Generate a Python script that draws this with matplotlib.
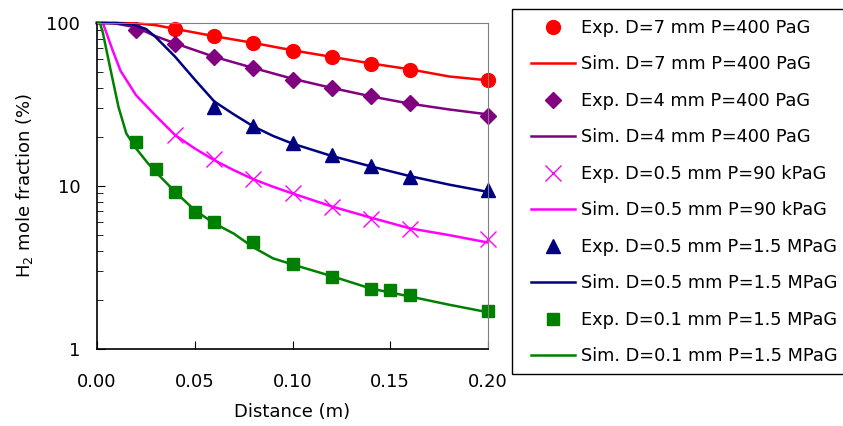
import matplotlib
matplotlib.use("Agg")
import matplotlib.pyplot as plt
from matplotlib.patches import Rectangle
from matplotlib.ticker import LogLocator, FixedLocator, NullFormatter

x_red = [0.04, 0.06, 0.08, 0.10, 0.12, 0.14, 0.16, 0.20]
y_red = [92, 83, 75.5, 67.5, 62, 56, 51.5, 44.5]
x_pur = [0.02, 0.04, 0.06, 0.08, 0.10, 0.12, 0.14, 0.16, 0.20]
y_pur = [91, 74.5, 62, 53, 45, 40, 35.7, 32.5, 27]
x_mag = [0.04, 0.06, 0.08, 0.10, 0.12, 0.14, 0.16, 0.20]
y_mag = [20.5, 14.6, 11.0, 9.0, 7.45, 6.3, 5.45, 4.75]
x_nav = [0.06, 0.08, 0.10, 0.12, 0.14, 0.16, 0.20]
y_nav = [30.5, 23.5, 18.3, 15.6, 13.3, 11.4, 9.5]
x_grn = [0.02, 0.03, 0.04, 0.05, 0.06, 0.08, 0.10, 0.12, 0.14, 0.15, 0.16, 0.20]
y_grn = [18.5, 12.8, 9.2, 6.95, 6.0, 4.55, 3.3, 2.78, 2.34, 2.3, 2.15, 1.7]

# simulation curves
sx_red = [0.0, 0.01, 0.02, 0.03, 0.04, 0.06, 0.08, 0.10, 0.12, 0.14, 0.16, 0.18, 0.20]
sy_red = [100, 100, 99.5, 97, 92, 83, 75.5, 68, 62, 56.5, 52, 47, 44.5]
sx_pur = [0.0, 0.005, 0.01, 0.02, 0.03, 0.04, 0.06, 0.08, 0.10, 0.12, 0.14, 0.16, 0.18, 0.20]
sy_pur = [100, 100, 99, 94, 83, 75, 62, 53, 45.5, 40, 35.5, 32, 29.5, 27.5]
sx_nav = [0.0, 0.01, 0.018, 0.025, 0.03, 0.04, 0.05, 0.06, 0.07, 0.08, 0.09, 0.10, 0.12, 0.14, 0.16, 0.18, 0.20]
sy_nav = [100, 100, 98, 92, 82, 62, 45, 33, 27.5, 23.2, 20.3, 18.2, 15.3, 13.2, 11.5, 10.2, 9.2]
sx_mag = [0.0, 0.003, 0.008, 0.012, 0.02, 0.03, 0.04, 0.05, 0.06, 0.07, 0.08, 0.09, 0.10, 0.12, 0.14, 0.16, 0.18, 0.20]
sy_mag = [100, 100, 68, 51, 36, 27, 20.5, 17, 14.4, 12.5, 11.0, 9.9, 9.0, 7.5, 6.4, 5.5, 5.0, 4.5]
sx_grn = [0.0, 0.0015, 0.003, 0.0066, 0.011, 0.015, 0.02, 0.026, 0.03, 0.04, 0.05, 0.06, 0.07,
          0.08, 0.09, 0.10, 0.12, 0.14, 0.16, 0.18, 0.20]
sy_grn = [100, 100, 87, 54, 30.5, 21, 17, 13.8, 12.2, 9.2, 7.1, 5.9, 5.1,
          4.2, 3.6, 3.3, 2.8, 2.35, 2.1, 1.87, 1.68]

plt.rcParams['font.family'] = 'DejaVu Sans'

fig = plt.figure(figsize=(8.43, 4.26), dpi=100)
ax = fig.add_axes([97/843, 1 - 349/426, (488 - 97)/843, (349 - 23)/426])

lw = 1.8
ax.plot(x_red, y_red, 'o', color='#ff0000', markersize=10, label='Exp. D=7 mm P=400 PaG')
ax.plot(sx_red, sy_red, '-', color='#ff0000', lw=lw, label='Sim. D=7 mm P=400 PaG')
ax.plot(x_pur, y_pur, 'D', color='#800080', markersize=8, label='Exp. D=4 mm P=400 PaG')
ax.plot(sx_pur, sy_pur, '-', color='#800080', lw=lw, label='Sim. D=4 mm P=400 PaG')
ax.plot(x_mag, y_mag, 'x', color='#ff00ff', markersize=11, mew=1.0, label='Exp. D=0.5 mm P=90 kPaG')
ax.plot(sx_mag, sy_mag, '-', color='#ff00ff', lw=lw, label='Sim. D=0.5 mm P=90 kPaG')
ax.plot(x_nav, y_nav, '^', color='#000080', markersize=10, label='Exp. D=0.5 mm P=1.5 MPaG')
ax.plot(sx_nav, sy_nav, '-', color='#000080', lw=lw, label='Sim. D=0.5 mm P=1.5 MPaG')
ax.plot(x_grn, y_grn, 's', color='#008000', markersize=8, label='Exp. D=0.1 mm P=1.5 MPaG')
ax.plot(sx_grn, sy_grn, '-', color='#008000', lw=lw, label='Sim. D=0.1 mm P=1.5 MPaG')

for m in ax.lines:
    m.set_clip_on(False)

ax.set_yscale('log')
ax.set_xlim(0, 0.2)
ax.set_ylim(1, 100)
ax.xaxis.set_major_locator(FixedLocator([0, 0.05, 0.10, 0.15, 0.20]))
ax.set_xticklabels(['0.00', '0.05', '0.10', '0.15', '0.20'])
ax.yaxis.set_major_locator(FixedLocator([1, 10, 100]))
ax.set_yticklabels(['1', '10', '100'])
ax.yaxis.set_minor_locator(LogLocator(base=10, subs=range(2, 10)))
ax.yaxis.set_minor_formatter(NullFormatter())
ax.tick_params(axis='both', which='major', direction='in', length=6, labelsize=13)
ax.tick_params(axis='x', which='major', pad=17)
ax.tick_params(axis='y', which='major', pad=12)
ax.tick_params(axis='y', which='minor', direction='in', length=4)
ax.tick_params(axis='x', which='minor', length=0)

ax.spines['top'].set_color('#808080')
ax.spines['right'].set_color('#808080')
ax.spines['left'].set_linewidth(1.2)
ax.spines['bottom'].set_linewidth(1.2)

ax.set_xlabel('Distance (m)', fontsize=13, labelpad=9)
ax.set_ylabel('H$_2$ mole fraction (%)', fontsize=13, labelpad=8)

# legend box drawn by hand so the padding can match
fig.patches.append(Rectangle((512/843, 1 - 374/426), (860 - 512)/843, (374 - 9)/426,
                             transform=fig.transFigure, fill=False,
                             edgecolor='black', lw=1.0))
handles, labels = ax.get_legend_handles_labels()
leg = fig.legend(handles, labels, loc='upper left', bbox_to_anchor=(531/843, 1 - 19/426),
                 fontsize=12.8, frameon=False, handlelength=2.5, labelspacing=1.04,
                 borderpad=0, handletextpad=0.3, borderaxespad=0)

fig.savefig('out.png', dpi=100)
